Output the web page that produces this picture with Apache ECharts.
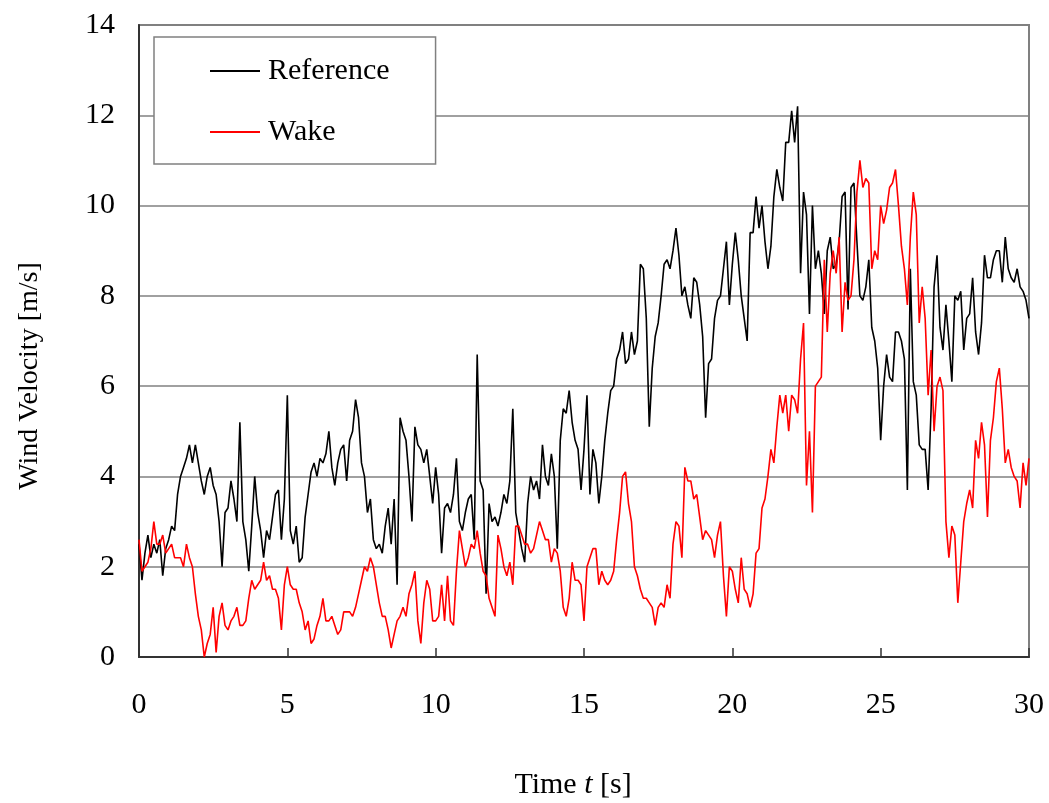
<!DOCTYPE html>
<html>
<head>
<meta charset="utf-8">
<script src="https://cdn.jsdelivr.net/npm/echarts@6/dist/echarts.min.js"></script>
<style>
html,body{margin:0;padding:0;background:#fff;}
#chart{width:1049px;height:803px;}
</style>
</head>
<body>
<div id="chart"></div>
<script>
// sampling step of the records [s]
const sampleStep = 0.1;
const xTicks = [0, 5, 10, 15, 20, 25, 30];
const yTicks = [0, 2, 4, 6, 8, 10, 12, 14];
const seriesNames = ['Reference', 'Wake'];

// Reference wind velocity [m/s], one value per 0.1 s from t = 0 to 30 s
const reference = [
  2.5, 1.7, 2.3, 2.7, 2.2, 2.5, 2.3, 2.6, 1.8, 2.4,
  2.6, 2.9, 2.8, 3.6, 4.0, 4.2, 4.4, 4.7, 4.3, 4.7,
  4.3, 3.9, 3.6, 4.0, 4.2, 3.8, 3.6, 3.0, 2.0, 3.2,
  3.3, 3.9, 3.5, 3.0, 5.2, 3.0, 2.6, 1.9, 2.9, 4.0,
  3.2, 2.8, 2.2, 2.8, 2.6, 3.1, 3.6, 3.7, 2.6, 3.5,
  5.8, 2.8, 2.5, 2.9, 2.1, 2.2, 3.1, 3.6, 4.1, 4.3,
  4.0, 4.4, 4.3, 4.5, 5.0, 4.2, 3.8, 4.3, 4.6, 4.7,
  3.9, 4.8, 5.0, 5.7, 5.3, 4.3, 4.0, 3.2, 3.5, 2.6,
  2.4, 2.5, 2.3, 2.9, 3.3, 2.5, 3.5, 1.6, 5.3, 5.0,
  4.8, 4.0, 3.0, 5.1, 4.7, 4.6, 4.3, 4.6, 4.0, 3.4,
  4.2, 3.6, 2.3, 3.3, 3.4, 3.2, 3.6, 4.4, 3.0, 2.8,
  3.2, 3.5, 3.6, 2.6, 6.7, 3.9, 3.7, 1.4, 3.4, 3.0,
  3.1, 2.9, 3.2, 3.6, 3.4, 3.9, 5.5, 3.2, 2.8, 2.4,
  2.1, 3.4, 4.0, 3.7, 3.9, 3.5, 4.7, 4.0, 3.8, 4.5,
  4.0, 2.4, 4.8, 5.5, 5.4, 5.9, 5.2, 4.8, 4.6, 3.7,
  4.6, 5.8, 3.6, 4.6, 4.3, 3.4, 4.0, 4.8, 5.4, 5.9,
  6.0, 6.6, 6.8, 7.2, 6.5, 6.6, 7.2, 6.7, 7.0, 8.7,
  8.6, 7.5, 5.1, 6.4, 7.1, 7.4, 8.0, 8.7, 8.8, 8.6,
  9.0, 9.5, 8.9, 8.0, 8.2, 7.8, 7.5, 8.4, 8.3, 7.8,
  7.1, 5.3, 6.5, 6.6, 7.5, 7.9, 8.0, 8.6, 9.2, 7.8,
  8.7, 9.4, 8.8, 8.0, 7.5, 7.0, 9.4, 9.4, 10.2, 9.5,
  10.0, 9.2, 8.6, 9.1, 10.2, 10.8, 10.4, 10.1, 11.4, 11.4,
  12.1, 11.4, 12.2, 8.5, 10.3, 9.8, 7.6, 10.0, 8.6, 9.0,
  8.5, 7.6, 9.0, 9.3, 8.6, 8.7, 9.2, 10.2, 10.3, 7.7,
  10.4, 10.5, 9.2, 8.0, 7.9, 8.2, 8.8, 7.3, 7.0, 6.4,
  4.8, 6.0, 6.7, 6.2, 6.1, 7.2, 7.2, 7.0, 6.6, 3.7,
  8.6, 6.1, 5.8, 4.7, 4.6, 4.6, 3.7, 5.5, 8.2, 8.9,
  7.3, 6.8, 7.8, 7.0, 6.1, 8.0, 7.9, 8.1, 6.8, 7.5,
  7.6, 8.4, 7.2, 6.7, 7.4, 8.9, 8.4, 8.4, 8.8, 9.0,
  9.0, 8.3, 9.3, 8.6, 8.4, 8.3, 8.6, 8.2, 8.1, 7.9,
  7.5
];

// Wake wind velocity [m/s], one value per 0.1 s from t = 0 to 30 s
const wake = [
  2.6, 1.9, 2.0, 2.1, 2.4, 3.0, 2.5, 2.5, 2.7, 2.3,
  2.4, 2.5, 2.2, 2.2, 2.2, 2.0, 2.5, 2.2, 2.0, 1.4,
  0.9, 0.6, 0.0, 0.3, 0.5, 1.1, 0.1, 0.9, 1.2, 0.7,
  0.6, 0.8, 0.9, 1.1, 0.7, 0.7, 0.8, 1.3, 1.7, 1.5,
  1.6, 1.7, 2.1, 1.7, 1.8, 1.5, 1.5, 1.3, 0.6, 1.6,
  2.0, 1.6, 1.5, 1.5, 1.2, 1.0, 0.6, 0.8, 0.3, 0.4,
  0.7, 0.9, 1.3, 0.8, 0.8, 0.9, 0.7, 0.5, 0.6, 1.0,
  1.0, 1.0, 0.9, 1.1, 1.4, 1.7, 2.0, 1.9, 2.2, 2.0,
  1.6, 1.2, 0.9, 0.9, 0.6, 0.2, 0.5, 0.8, 0.9, 1.1,
  0.9, 1.4, 1.6, 1.9, 0.8, 0.3, 1.2, 1.7, 1.5, 0.8,
  0.8, 0.9, 1.6, 0.8, 1.8, 0.8, 0.7, 1.9, 2.8, 2.4,
  2.0, 2.2, 2.5, 2.4, 2.8, 2.3, 1.9, 1.8, 1.3, 1.1,
  0.9, 2.7, 2.4, 2.0, 1.8, 2.1, 1.6, 2.9, 2.9, 2.7,
  2.5, 2.5, 2.3, 2.4, 2.7, 3.0, 2.8, 2.6, 2.6, 2.1,
  2.4, 2.3, 1.9, 1.1, 0.9, 1.3, 2.1, 1.7, 1.7, 1.6,
  0.8, 2.0, 2.2, 2.4, 2.4, 1.6, 1.9, 1.7, 1.6, 1.7,
  1.9, 2.6, 3.2, 4.0, 4.1, 3.4, 3.0, 2.0, 1.8, 1.5,
  1.3, 1.3, 1.2, 1.1, 0.7, 1.1, 1.2, 1.1, 1.6, 1.3,
  2.5, 3.0, 2.9, 2.2, 4.2, 3.9, 3.9, 3.5, 3.6, 3.1,
  2.6, 2.8, 2.7, 2.6, 2.2, 2.7, 3.0, 1.8, 0.9, 2.0,
  1.9, 1.5, 1.2, 2.2, 1.5, 1.4, 1.1, 1.4, 2.3, 2.4,
  3.3, 3.5, 4.0, 4.6, 4.3, 5.1, 5.8, 5.4, 5.8, 5.0,
  5.8, 5.7, 5.4, 6.6, 7.4, 3.8, 5.0, 3.2, 6.0, 6.1,
  6.2, 8.8, 7.2, 8.5, 9.0, 8.5, 9.3, 7.2, 8.3, 7.9,
  8.0, 8.8, 10.3, 11.0, 10.4, 10.6, 10.5, 8.6, 9.0, 8.8,
  10.0, 9.6, 9.9, 10.4, 10.5, 10.8, 10.0, 9.1, 8.6, 7.8,
  9.3, 10.3, 9.8, 7.4, 8.2, 7.5, 5.8, 6.8, 5.0, 6.0,
  6.2, 5.9, 3.0, 2.2, 2.9, 2.7, 1.2, 2.1, 3.0, 3.4,
  3.7, 3.3, 4.8, 4.4, 5.2, 4.7, 3.1, 4.8, 5.3, 6.1,
  6.4, 5.5, 4.3, 4.6, 4.2, 4.0, 3.9, 3.3, 4.3, 3.8,
  4.4
];

const FONT = '"Liberation Serif", "Times New Roman", serif';
const toPairs = arr => arr.map((v, i) => [+(i * sampleStep).toFixed(1), v]);

const chart = echarts.init(document.getElementById('chart'), null, {renderer: 'canvas'});
chart.setOption({
  animation: false,
  backgroundColor: '#ffffff',
  grid: {
    left: 139, right: 20, top: 25, bottom: 146,
    show: true, borderColor: '#808080', borderWidth: 2, backgroundColor: 'transparent'
  },
  xAxis: {
    type: 'value',
    min: xTicks[0], max: xTicks[xTicks.length - 1], interval: 5,
    axisLine: {show: true, onZero: false, lineStyle: {color: '#333', width: 2}},
    axisTick: {show: true, inside: true, length: 9, lineStyle: {color: '#333', width: 1.5}},
    axisLabel: {fontFamily: FONT, fontSize: 30, color: '#000', margin: 33},
    splitLine: {show: false}
  },
  yAxis: {
    type: 'value',
    min: yTicks[0], max: yTicks[yTicks.length - 1], interval: 2,
    axisLine: {show: true, onZero: false, lineStyle: {color: '#333', width: 2}},
    axisTick: {show: false},
    axisLabel: {fontFamily: FONT, fontSize: 30, color: '#000', margin: 24},
    splitLine: {show: true, lineStyle: {color: '#808080', width: 1.5}}
  },
  legend: {
    orient: 'vertical',
    left: 154, top: 37,
    padding: [19, 46, 17, 56],
    itemGap: 31,
    itemWidth: 50, itemHeight: 2,
    icon: 'rect',
    backgroundColor: '#ffffff',
    borderColor: '#808080', borderWidth: 1.5,
    textStyle: {fontFamily: FONT, fontSize: 30, color: '#000', lineHeight: 30, padding: [0, 0, 0, 3]},
    data: seriesNames
  },
  graphic: [
    {
      type: 'text', x: 573, y: 785,
      style: {
        text: '{n|Time }{i|t}{n| [s]}',
        align: 'center', verticalAlign: 'middle',
        rich: {
          n: {fontFamily: FONT, fontSize: 30, fill: '#000'},
          i: {fontFamily: FONT, fontSize: 30, fontStyle: 'italic', fill: '#000'}
        }
      }
    },
    {
      type: 'text', x: 30, y: 376, rotation: Math.PI / 2,
      style: {
        text: 'Wind Velocity [m/s]',
        fontFamily: FONT, fontSize: 28, fill: '#000',
        align: 'center', verticalAlign: 'middle'
      }
    }
  ],
  series: [
    {
      name: seriesNames[0], type: 'line', data: toPairs(reference),
      symbol: 'none', showSymbol: false,
      lineStyle: {color: '#000000', width: 1.6},
      itemStyle: {color: '#000000'}
    },
    {
      name: seriesNames[1], type: 'line', data: toPairs(wake),
      symbol: 'none', showSymbol: false,
      lineStyle: {color: '#ff0000', width: 1.6},
      itemStyle: {color: '#ff0000'}
    }
  ]
});
</script>
</body>
</html>
